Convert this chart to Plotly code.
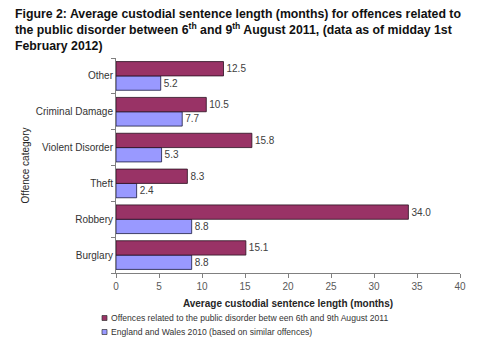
import plotly.graph_objects as go

categories = ["Burglary", "Robbery", "Theft", "Violent Disorder", "Criminal Damage", "Other"]
disorder_2011 = [15.1, 34.0, 8.3, 15.8, 10.5, 12.5]
england_wales_2010 = [8.8, 8.8, 2.4, 5.3, 7.7, 5.2]
series_names = [
    "Offences related to the public disorder betw een 6th and 9th August 2011",
    "England and Wales 2010 (based on similar offences)",
]
x_ticks = [0, 5, 10, 15, 20, 25, 30, 35, 40]

MAROON = "#993366"
BLUE = "#9999FF"
FONT = "Liberation Sans, Arial, sans-serif"

W, H = 480, 349
L, R, T, B = 116, 20, 58, 76
PW, PH = W - L - R, H - T - B

fig = go.Figure()
fig.add_trace(go.Bar(
    y=categories, x=england_wales_2010, orientation="h", name=series_names[1],
    marker=dict(color=BLUE, line=dict(color="#1a1a40", width=0.8)),
    text=[f"{v:.1f}" for v in england_wales_2010], textposition="outside",
    textfont=dict(size=10, color="#404040", family=FONT), cliponaxis=False,
    showlegend=False,
))
fig.add_trace(go.Bar(
    y=categories, x=disorder_2011, orientation="h", name=series_names[0],
    marker=dict(color=MAROON, line=dict(color="#2a1020", width=0.8)),
    text=[f"{v:.1f}" for v in disorder_2011], textposition="outside",
    textfont=dict(size=10, color="#404040", family=FONT), cliponaxis=False,
    showlegend=False,
))

def px_x(px):
    return (px - L) / PW

def px_y(py):
    return (H - B - py) / PH

title_text = ("Figure 2: Average custodial sentence length (months) for offences related to<br>"
              "the public disorder between 6<sup>th</sup> and 9<sup>th</sup> August 2011, (data as of midday 1st<br>"
              "February 2012)")

annotations = [
    dict(text="<b>" + title_text + "</b>", x=px_x(13), y=px_y(5), xref="paper", yref="paper",
         showarrow=False, xanchor="left", yanchor="top", align="left",
         font=dict(size=12.3, color="#111111", family=FONT)),
    dict(text="Offence category", x=px_x(25), y=0.5, xref="paper", yref="paper",
         textangle=-90, showarrow=False, font=dict(size=10, color="#262626", family=FONT),
         xanchor="center", yanchor="middle"),
]
shapes = []
legend_rows = [(series_names[0], MAROON, 318), (series_names[1], BLUE, 332)]
for name, col, py in legend_rows:
    shapes.append(dict(type="rect", xref="paper", yref="paper",
                       x0=px_x(102), x1=px_x(107), y0=px_y(py + 2.5), y1=px_y(py - 2.5),
                       fillcolor=col, line=dict(color="#333333", width=0.7)))
    annotations.append(dict(text=name, x=px_x(108.5), y=px_y(py), xref="paper", yref="paper",
                            showarrow=False, xanchor="left", yanchor="middle",
                            font=dict(size=8.6, color="#333333", family=FONT)))

fig.update_layout(
    width=W, height=H,
    margin=dict(l=L, r=R, t=T, b=B),
    paper_bgcolor="white", plot_bgcolor="white",
    barmode="group", bargap=0.2, bargroupgap=0,
    xaxis=dict(
        range=[0, 40], tickvals=x_ticks, showgrid=False, zeroline=False,
        showline=True, linecolor="#808080", linewidth=1,
        ticks="outside", ticklen=4, tickcolor="#808080",
        tickfont=dict(size=10, color="#595959", family=FONT),
        title=dict(text="<b>Average custodial sentence length (months)</b>",
                   font=dict(size=10, color="#262626", family=FONT), standoff=8),
    ),
    yaxis=dict(
        showgrid=False, zeroline=False, showline=True, linecolor="#808080", linewidth=1,
        ticks="outside", ticklen=4, tickcolor="#808080", tickson="boundaries",
        tickfont=dict(size=10, color="#333333", family=FONT),
    ),
    annotations=annotations, shapes=shapes,
)

fig.write_html("out.html")
